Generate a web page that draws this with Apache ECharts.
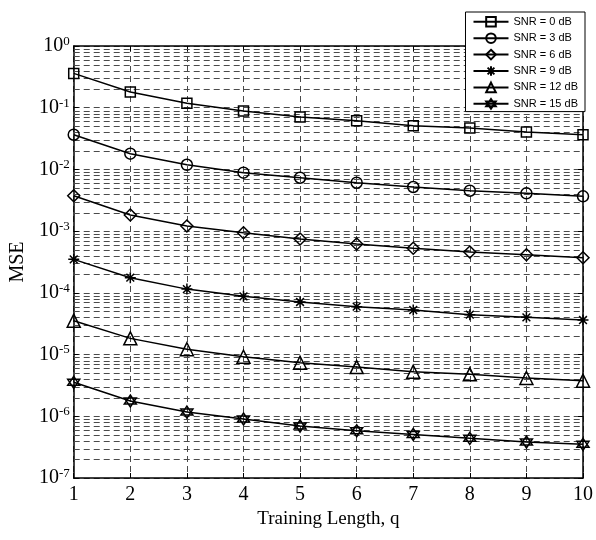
<!DOCTYPE html>
<html><head><meta charset="utf-8">
<script src="https://cdn.jsdelivr.net/npm/echarts@6/dist/echarts.min.js"></script>
<style>html,body{margin:0;padding:0;background:#fff}#c{width:596px;height:540px}</style>
</head><body><div id="c"></div>
<script>
const qValues = [1, 2, 3, 4, 5, 6, 7, 8, 9, 10];
const seriesNames = ['SNR = 0 dB', 'SNR = 3 dB', 'SNR = 6 dB', 'SNR = 9 dB', 'SNR = 12 dB', 'SNR = 15 dB'];
const snr0 = [0.36, 0.18, 0.118, 0.0885, 0.0707, 0.0616, 0.0511, 0.0469, 0.0404, 0.0365];
const snr3 = [0.0365, 0.018, 0.0119, 0.00885, 0.00734, 0.00609, 0.00519, 0.00452, 0.0041, 0.00367];
const snr6 = [0.00375, 0.00183, 0.00121, 0.000944, 0.000745, 0.000619, 0.000527, 0.000459, 0.000415, 0.000371];
const snr9 = [0.000349, 0.000176, 0.000115, 8.78e-5, 7.11e-5, 5.97e-5, 5.27e-5, 4.43e-5, 4.01e-5, 3.63e-5];
const snr12 = [3.54e-5, 1.83e-5, 1.22e-5, 9.23e-6, 7.38e-6, 6.28e-6, 5.27e-6, 4.79e-6, 4.17e-6, 3.77e-6];
const snr15 = [3.55e-6, 1.77e-6, 1.17e-6, 9.03e-7, 6.95e-7, 5.83e-7, 5.09e-7, 4.39e-7, 3.83e-7, 3.51e-7];
const xTickLabels = ['1', '2', '3', '4', '5', '6', '7', '8', '9', '10'];
const yTickExponents = [0, -1, -2, -3, -4, -5, -6, -7];
const xAxisTitle = 'Training Length, q';
const yAxisTitle = 'MSE';

const allSeries = [snr0, snr3, snr6, snr9, snr12, snr15];
const symbols = [
  'rect',
  'circle',
  'diamond',
  'path://M0,-1 L0,1 M-1,0 L1,0 M-0.707,-0.707 L0.707,0.707 M-0.707,0.707 L0.707,-0.707',
  'triangle',
  'path://M0,-1 L0.866,0.5 L-0.866,0.5 Z M0,1 L0.866,-0.5 L-0.866,-0.5 Z'
];
const symbolSizes = [10, 11, 12, 11, 13, 12];

// minor gridline positions (2..9 × decade)
const minorGrid = [];
for (let e = -7; e < 0; e++) for (let m = 2; m <= 9; m++) minorGrid.push(m * Math.pow(10, e));

const serif = 'Liberation Serif';
const gridColor = '#4a4a4a';
const gridLine = { show: true, lineStyle: { type: [6, 4], color: gridColor, width: 1 } };

const series = allSeries.map((vals, i) => ({
  name: seriesNames[i],
  type: 'line',
  data: vals.map((v, k) => [qValues[k], v]),
  symbol: symbols[i],
  symbolSize: symbolSizes[i],
  showAllSymbol: true,
  z: 3,
  lineStyle: { color: '#000', width: 1.5 },
  itemStyle: { color: 'rgba(255,255,255,0)', borderColor: '#000', borderWidth: 1.5 },
  emphasis: { disabled: true },
  animation: false
}));
series.push({
  name: '_minorgrid', type: 'custom', z: 1, silent: true, animation: false,
  data: minorGrid.map(v => [qValues[0], v]),
  encode: { x: 0, y: 1 },
  renderItem: (params, api) => {
    const v = api.value(1);
    const p1 = api.coord([qValues[0], v]);
    const p2 = api.coord([qValues[qValues.length - 1], v]);
    const y = Math.round(p1[1]) + 0.5;
    return {
      type: 'line',
      shape: { x1: p1[0], y1: y, x2: p2[0], y2: y },
      style: { stroke: gridColor, lineWidth: 1, lineDash: [6, 4] }
    };
  }
});

const chart = echarts.init(document.getElementById('c'), null, { renderer: 'canvas' });
chart.setOption({
  backgroundColor: '#fff',
  animation: false,
  grid: { left: 66, right: 8, top: 46, bottom: 62 },
  legend: {
    data: seriesNames,
    orient: 'vertical',
    right: 11, top: 12,
    itemWidth: 35, itemHeight: 12, itemGap: 4.8,
    padding: [4, 7, 2, 7],
    backgroundColor: '#fff', borderColor: '#000', borderWidth: 1,
    textStyle: { fontFamily: 'Liberation Sans', fontSize: 11, color: '#000' },
    selectedMode: false,
    z: 10
  },
  xAxis: [{
    type: 'value', min: 1, max: 10, interval: 1,
    name: xAxisTitle, nameLocation: 'middle', nameGap: 32,
    nameTextStyle: { fontFamily: serif, fontSize: 19, color: '#000' },
    axisLine: { show: true, lineStyle: { color: '#000', width: 1.5 } },
    axisTick: { show: true, inside: true, length: 5, lineStyle: { color: '#000' } },
    axisLabel: { margin: 7, fontFamily: serif, fontSize: 20, color: '#000',
      formatter: v => xTickLabels[qValues.indexOf(v)] || '' },
    splitLine: gridLine
  }, {
    type: 'value', min: 1, max: 10, interval: 1, position: 'top',
    axisLine: { show: true, lineStyle: { color: '#000', width: 1.5 } },
    axisTick: { show: true, inside: true, length: 5, lineStyle: { color: '#000' } },
    axisLabel: { show: false }, splitLine: { show: false }
  }],
  yAxis: [{
    type: 'log', logBase: 10, min: 1e-7, max: 1, splitNumber: 7,
    name: yAxisTitle, nameLocation: 'middle', nameGap: 44, nameRotate: 90,
    nameTextStyle: { fontFamily: serif, fontSize: 20, color: '#000' },
    axisLine: { show: true, lineStyle: { color: '#000', width: 1.5 } },
    axisTick: { show: true, inside: true, length: 5, lineStyle: { color: '#000' } },
    axisLabel: {
      margin: 4,
      formatter: v => {
        const e = Math.round(Math.log10(v));
        if (yTickExponents.indexOf(e) < 0) return '';
        return '{b|10}{s|' + e + '}';
      },
      rich: {
        b: { fontFamily: serif, fontSize: 20, color: '#000', lineHeight: 22 },
        s: { fontFamily: serif, fontSize: 13, color: '#000', lineHeight: 14, verticalAlign: 'top' }
      }
    },
    splitLine: gridLine
  }, {
    type: 'log', logBase: 10, min: 1e-7, max: 1, splitNumber: 7, position: 'right',
    axisLine: { show: true, lineStyle: { color: '#000', width: 1.5 } },
    axisTick: { show: true, inside: true, length: 5, lineStyle: { color: '#000' } },
    axisLabel: { show: false }, splitLine: { show: false }
  }],
  series: series
});
</script></body></html>
